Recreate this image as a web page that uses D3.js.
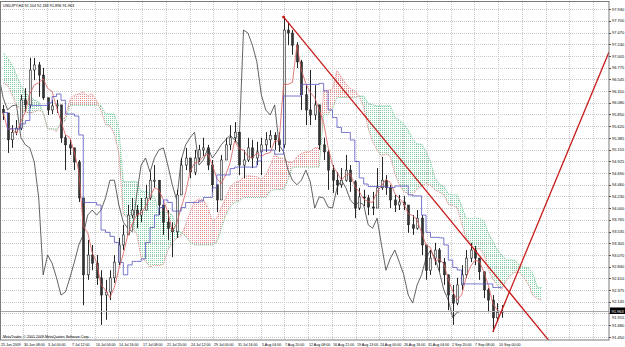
<!DOCTYPE html>
<html>
<head>
<meta charset="utf-8">
<style>
  body { margin: 0; background: #fff; }
  svg { display: block; font-family: "Liberation Sans", Arial, sans-serif; }
</style>
</head>
<body>
<script src="https://d3js.org/d3.v7.min.js"></script>
<script>
const width = 625, height = 347;
const plotW = 609, plotTop = 2, plotBottom = 340;

const closes = [
  95.88, 95.35, 95.50, 95.58, 96.14, 96.04, 96.73, 96.83, 96.63, 96.18,
  95.94, 96.02, 96.04, 95.39, 95.25, 95.19, 94.91, 94.20, 92.68, 93.07,
  92.91, 92.62, 92.28, 92.34, 92.62, 92.93, 93.27, 93.47, 93.86, 93.96,
  93.86, 93.96, 94.20, 94.55, 94.55, 94.06, 93.72, 93.60, 93.53, 94.26,
  94.85, 94.99, 94.71, 94.99, 95.15, 95.19, 94.85, 94.46, 94.16, 94.95,
  95.25, 95.39, 95.50, 94.85, 94.95, 95.19, 94.99, 95.11, 95.25, 95.35,
  95.44, 95.35, 95.25, 97.52, 97.46, 97.22, 96.89, 96.24, 95.94, 95.84,
  96.04, 95.25, 95.11, 94.75, 94.55, 94.46, 94.55, 94.75, 94.52, 94.00,
  94.22, 94.20, 94.02, 94.00, 94.40, 94.55, 94.40, 94.16, 94.06, 94.12,
  94.06, 93.67, 93.60, 93.80, 93.27, 92.77, 93.01, 93.17, 92.93, 92.68,
  92.28, 92.12, 92.48, 92.68, 93.01, 93.17, 93.01, 92.74, 92.38, 92.18,
  91.83, 91.94, 91.96
];
const highs = [
  96.04, 95.84, 95.64, 95.74, 96.24, 96.37, 96.97, 96.97, 96.89, 96.77,
  96.14, 96.14, 96.14, 96.04, 95.44, 95.35, 95.19, 94.95, 94.16, 93.37,
  93.27, 93.07, 92.77, 92.58, 92.77, 93.07, 93.41, 93.67, 94.06, 94.20,
  94.06, 94.20, 94.46, 94.71, 94.85, 94.46, 94.06, 93.96, 93.72, 94.36,
  94.99, 95.19, 94.95, 95.15, 95.25, 95.39, 95.25, 94.95, 94.46, 95.05,
  95.39, 95.64, 95.70, 95.44, 95.15, 95.39, 95.35, 95.31, 95.39, 95.50,
  95.54, 95.50, 95.50, 97.78, 97.68, 97.52, 97.28, 96.93, 96.43, 96.73,
  96.43, 96.04, 95.39, 95.15, 94.85, 94.71, 94.79, 95.05, 94.85, 94.55,
  94.40, 94.36, 94.26, 94.32, 94.79, 95.01, 94.65, 94.46, 94.26, 94.26,
  94.24, 94.06, 93.86, 93.96, 93.86, 93.27, 93.17, 93.31, 93.21, 93.01,
  92.68, 92.48, 92.62, 92.87, 93.17, 93.31, 93.25, 93.01, 92.68, 92.42,
  92.28, 92.12, 92.08
];
const lows = [
  95.74, 95.09, 95.19, 95.44, 95.54, 95.90, 95.98, 96.53, 96.20, 96.14,
  95.84, 95.86, 95.88, 95.29, 94.75, 95.05, 94.75, 94.12, 92.08, 92.58,
  92.77, 92.48, 91.69, 91.79, 92.18, 92.52, 92.87, 93.17, 93.53, 93.80,
  93.60, 93.72, 93.96, 94.16, 94.40, 93.86, 93.47, 93.37, 93.03, 93.41,
  94.26, 94.75, 94.59, 94.65, 94.91, 95.03, 94.75, 94.32, 93.92, 94.16,
  94.95, 95.15, 95.31, 94.65, 94.59, 94.91, 94.79, 94.85, 94.65, 95.11,
  95.19, 95.15, 95.11, 95.19, 97.22, 97.03, 96.77, 95.94, 95.64, 95.64,
  95.74, 95.15, 94.95, 94.36, 94.30, 94.26, 94.40, 94.52, 94.32, 93.80,
  93.96, 94.04, 93.86, 93.86, 94.12, 94.36, 94.26, 94.00, 93.92, 93.96,
  93.96, 93.51, 93.47, 93.57, 93.07, 92.58, 92.68, 92.87, 92.74, 92.48,
  91.98, 91.69, 92.08, 92.38, 92.62, 92.93, 92.87, 92.58, 92.22, 91.94,
  91.55, 91.75, 91.83
];
const firstOpen = 95.95;

// cloud edges before the first bar's data
const earlySpanA = [96.47, 96.43, 96.24, 96.04, 95.94, 95.90, 95.88, 95.90, 95.94];
const earlySpanB = [97.07, 96.97, 96.83, 96.63, 96.43, 96.29, 96.20, 96.14, 96.10];

const priceTicks = ["97.930","97.700","97.470","97.240","97.005","96.775","96.545","96.310",
  "96.080","95.850","95.620","95.385","95.155","94.925","94.690","94.460","94.230","94.000",
  "93.765","93.535","93.305","93.070","92.840","92.610","92.375","92.145","91.915","91.680","91.450"];
const timeLabels = ["25 Jun 2009","30 Jun 08:00","3 Jul 00:00","7 Jul 12:00","10 Jul 04:00",
  "14 Jul 16:00","17 Jul 08:00","21 Jul 20:00","24 Jul 12:00","29 Jul 00:00","31 Jul 16:00",
  "5 Aug 04:00","7 Aug 20:00","12 Aug 08:00","16 Aug 21:00","19 Aug 13:00","24 Aug 00:00",
  "26 Aug 16:00","31 Aug 04:00","2 Sep 20:00","7 Sep 08:00","10 Sep 00:00"];

// user trendlines [bar, price]
const trendDown = [[63, 97.78], [105, 93.27]];
const trendUp = [[110, 91.55], [120, 93.67]];

const lastPrice = 91.963;
const title = "USDJPY,H4  92.104 92.183 91.896 91.963";
const copyright = "MetaTrader, \u00a9 2001-2009 MetaQuotes Software Corp.";

const tenkanN = 3, kijunN = 9, spanBN = 17, shift = 9;
const barsPerLabel = 16 / 3, firstLabelBar = 4.54;

const x = d3.scaleLinear().domain([-0.7, 136.1]).range([0, plotW]);
const y = d3.scaleLinear().domain([97.93, 91.45]).range([9.3, 337]);

const svg = d3.select("body").append("svg").attr("width", width).attr("height", height);
const defs = svg.append("defs");
defs.append("clipPath").attr("id", "plot").append("rect")
  .attr("x", 0).attr("y", plotTop).attr("width", plotW).attr("height", plotBottom - plotTop);
[["kumoUp", "#e98a8a"], ["kumoDn", "#7ccda0"]].forEach(([id, c]) => {
  const p = defs.append("pattern").attr("id", id).attr("patternUnits", "userSpaceOnUse")
    .attr("width", 2).attr("height", 2);
  p.append("rect").attr("width", 1).attr("height", 1).attr("fill", c);
});

// grid
const grid = svg.append("g").attr("stroke", "#c8c8c8").attr("stroke-dasharray", "1,1");
priceTicks.forEach(t => {
  const yy = Math.round(y(+t)) + 0.5;
  grid.append("line").attr("x1", 0).attr("x2", plotW).attr("y1", yy).attr("y2", yy);
});
const gridBars = d3.range(1, 26).map(k => firstLabelBar + (k - 1) * barsPerLabel);
gridBars.forEach(b => {
  const xx = Math.round(x(b)) + 0.5;
  if (xx < plotW) grid.append("line").attr("x1", xx).attr("x2", xx).attr("y1", plotTop).attr("y2", plotBottom);
});

// ichimoku
function mid(i, n) {
  const a = Math.max(0, i - n + 1);
  return (d3.max(highs.slice(a, i + 1)) + d3.min(lows.slice(a, i + 1))) / 2;
}
const tenkan = closes.map((_, i) => mid(i, tenkanN));
const kijun = closes.map((_, i) => mid(i, kijunN));
const spanA = d3.range(closes.length + shift).map(k =>
  k < shift ? earlySpanA[k] : (tenkan[k - shift] + kijun[k - shift]) / 2);
const spanB = d3.range(closes.length + shift).map(k =>
  k < shift ? earlySpanB[k] : mid(k - shift, spanBN));

const plot = svg.append("g").attr("clip-path", "url(#plot)");
const kumo = plot.append("g");
function poly(pts, up) {
  kumo.append("path").attr("d", "M" + pts.map(p => x(p[0]) + "," + y(p[1])).join("L") + "Z")
    .attr("fill", up ? "url(#kumoUp)" : "url(#kumoDn)");
}
for (let k = 0; k < spanA.length - 1; k++) {
  const a0 = spanA[k], a1 = spanA[k + 1], b0 = spanB[k], b1 = spanB[k + 1];
  const d0 = a0 - b0, d1 = a1 - b1;
  if (d0 * d1 >= 0) {
    poly([[k, a0], [k + 1, a1], [k + 1, b1], [k, b0]], d0 + d1 > 0);
  } else {
    const t = d0 / (d0 - d1), xc = k + t, pc = a0 + t * (a1 - a0);
    poly([[k, a0], [xc, pc], [k, b0]], d0 > 0);
    poly([[xc, pc], [k + 1, a1], [k + 1, b1]], d1 > 0);
  }
}
const line = d3.line().x(d => x(d[0])).y(d => y(d[1]));
plot.append("path").attr("d", line(spanA.map((v, k) => [k, v])))
  .attr("fill", "none").attr("stroke", "#e68080").attr("stroke-dasharray", "1,1");
plot.append("path").attr("d", line(spanB.map((v, k) => [k, v])))
  .attr("fill", "none").attr("stroke", "#72c898").attr("stroke-dasharray", "1,1");

// chikou
plot.append("path").attr("d", line(closes.map((c, i) => [i - shift, c])))
  .attr("fill", "none").attr("stroke", "#3c3c3c").attr("stroke-width", 0.8);

// candles
const bars = closes.map((c, i) => {
  const o = i ? closes[i - 1] : firstOpen;
  return { i, o, c, h: Math.max(highs[i], o, c), l: Math.min(lows[i], o, c) };
});
const cg = plot.append("g");
cg.selectAll("line").data(bars).join("line")
  .attr("x1", d => Math.round(x(d.i)) + 0.5).attr("x2", d => Math.round(x(d.i)) + 0.5)
  .attr("y1", d => y(d.h)).attr("y2", d => y(d.l))
  .attr("stroke", "#262626");
cg.selectAll("rect").data(bars).join("rect")
  .attr("x", d => Math.round(x(d.i)) - 0.5)
  .attr("width", 2)
  .attr("y", d => y(Math.max(d.o, d.c)))
  .attr("height", d => Math.max(1, Math.abs(y(d.o) - y(d.c))))
  .attr("fill", d => d.c >= d.o ? "#e8e8e8" : "#333333")
  .attr("stroke", "#262626").attr("stroke-width", 0.6);

// tenkan / kijun
plot.append("path").attr("d", line(tenkan.map((v, i) => [i, v])))
  .attr("fill", "none").attr("stroke", "#dc5a5a").attr("stroke-width", 0.8);
plot.append("path").attr("d", d3.line().curve(d3.curveStepAfter).x(d => x(d[0])).y(d => y(d[1]))(kijun.map((v, i) => [i, v])))
  .attr("fill", "none").attr("stroke", "#5656c4").attr("stroke-width", 0.8);

// bid line
const by = Math.round(y(lastPrice)) + 0.5;
plot.append("line").attr("x1", 0).attr("x2", plotW).attr("y1", by).attr("y2", by)
  .attr("stroke", "#a8a8a8");

// trendlines, extended to the right edge
function ray(t) {
  const [[b0, p0], [b1, p1]] = t;
  const bEnd = x.domain()[1];
  const pEnd = p0 + (p1 - p0) * (bEnd - b0) / (b1 - b0);
  plot.append("line").attr("x1", x(b0)).attr("y1", y(p0)).attr("x2", x(bEnd)).attr("y2", y(pEnd))
    .attr("stroke", "#c81c1c").attr("stroke-width", 1.3);
}
ray(trendDown);
ray(trendUp);
plot.append("circle").attr("cx", x(trendDown[0][0])).attr("cy", y(trendDown[0][1])).attr("r", 1.5).attr("fill", "#c81c1c");

// frame
svg.append("rect").attr("x", 0.5).attr("y", plotTop - 0.5).attr("width", plotW - 0.5).attr("height", plotBottom - plotTop + 0.5)
  .attr("fill", "none").attr("stroke", "#7a7a7a");

// price axis
const ax = svg.append("g").attr("font-size", 4).attr("fill", "#000");
priceTicks.forEach(t => {
  const yy = y(+t);
  // the label under the price box is pushed just below it
  const ty = Math.abs(yy - by) < 6 ? by + 7 : yy + 1.5;
  ax.append("text").attr("x", 612).attr("y", ty).text(t);
  ax.append("line").attr("x1", plotW).attr("x2", plotW + 2).attr("y1", Math.round(yy) + 0.5).attr("y2", Math.round(yy) + 0.5).attr("stroke", "#555");
});
ax.append("rect").attr("x", plotW + 1).attr("y", by - 4).attr("width", 15).attr("height", 6.5).attr("fill", "#000");
ax.append("text").attr("x", 611.5).attr("y", by + 1.3).attr("fill", "#fff").text(lastPrice.toFixed(3));

// time axis
timeLabels.forEach((t, k) => {
  const xx = k === 0 ? 1 : Math.round(x(gridBars[k - 1])) + 1;
  ax.append("text").attr("x", xx).attr("y", 345.5).attr("font-size", 3.6).text(t);
});

svg.append("text").attr("x", 3).attr("y", 6.5).attr("font-size", 3.8).text(title);
svg.append("text").attr("x", 3).attr("y", 337.5).attr("font-size", 3.6).text(copyright);
</script>
</body>
</html>
